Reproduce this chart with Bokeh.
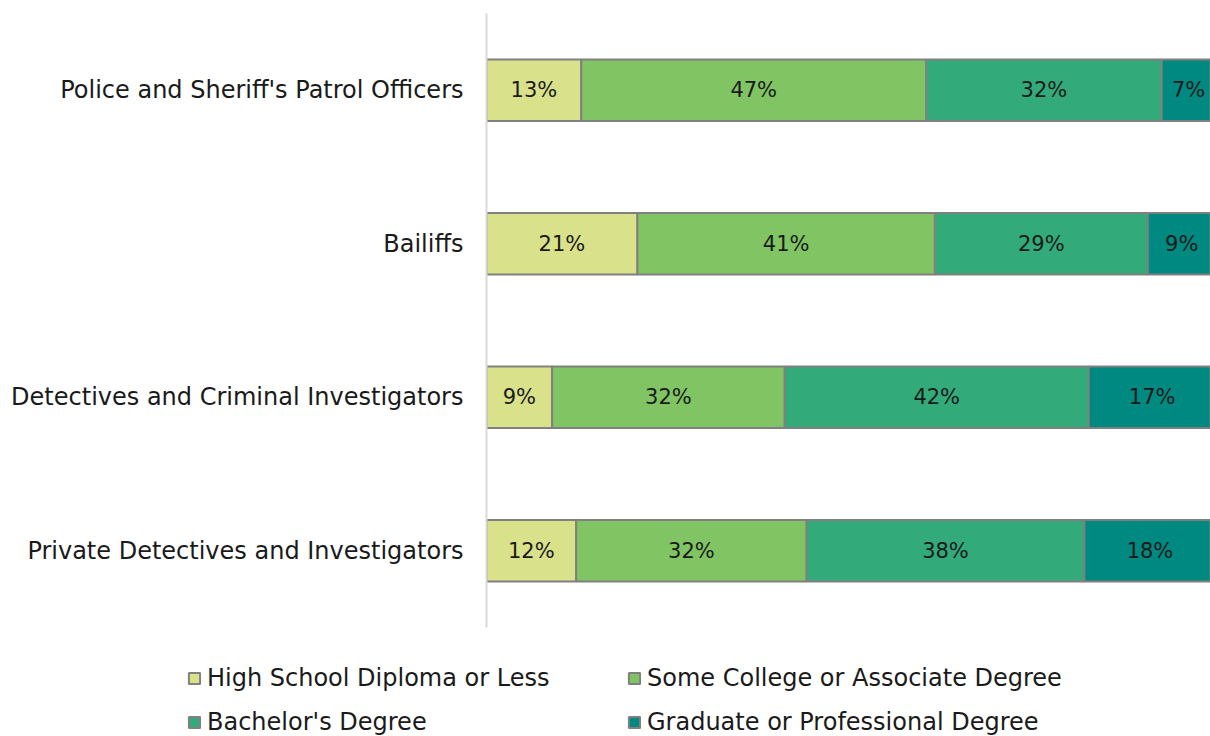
from bokeh.plotting import figure
from bokeh.models import ColumnDataSource, FactorRange, Legend, LegendItem, Range1d
from bokeh.core.properties import value
from bokeh.embed import file_html
from bokeh.resources import INLINE

occupations = ["Police and Sheriff's Patrol Officers", "Bailiffs",
               "Detectives and Criminal Investigators", "Private Detectives and Investigators"]
series = ["High School Diploma or Less", "Some College or Associate Degree",
          "Bachelor's Degree", "Graduate or Professional Degree"]
high_school = [13.0, 20.7, 9.0, 12.3]
some_college = [47.3, 40.8, 31.9, 31.6]
bachelors = [32.3, 29.2, 41.7, 38.1]
graduate = [7.4, 9.3, 17.4, 18.0]
colors = ["#d9e18b", "#80c464", "#32aa7a", "#008980"]

FONT = "DejaVu Sans"
TEXT = "#1a1a1a"
EDGE = "#808080"
keys = ["hs", "sc", "ba", "gr"]
data = {"occ": occupations, "hs": high_school, "sc": some_college, "ba": bachelors, "gr": graduate}
source = ColumnDataSource(data)

p = figure(width=1210, height=650, output_backend="svg", toolbar_location=None,
           y_range=FactorRange(factors=list(reversed(occupations)), range_padding=0),
           x_range=Range1d(0, 99.3),
           min_border_left=486, min_border_right=0, min_border_top=13, min_border_bottom=23)
p.outline_line_color = None
p.xgrid.visible = False
p.ygrid.visible = False
p.xaxis.visible = False

rs = p.hbar_stack(keys, y="occ", height=0.4, color=colors, source=source,
                  line_color=EDGE, line_width=2)

# segment labels
lx, ly, lt = [], [], []
for i, occ in enumerate(occupations):
    left = 0.0
    for arr in (high_school, some_college, bachelors, graduate):
        v = arr[i]
        lx.append(left + v / 2)
        ly.append(occ)
        lt.append(f"{round(v)}%")
        left += v
p.text(x=lx, y=ly, text=lt, text_align="center", text_baseline="middle",
       text_font=value(FONT), text_font_size="21px", text_color=TEXT)

yax = p.yaxis[0]
yax.axis_line_color = "#d9d9d9"
yax.axis_line_width = 2
yax.major_tick_line_color = None
yax.minor_tick_line_color = None
yax.major_label_text_font = FONT
yax.major_label_text_font_size = "24px"
yax.major_label_text_color = TEXT
yax.major_label_standoff = 17

# legend figure (same data, bars hidden; only the legend shows)
lf = figure(width=1210, height=86, output_backend="svg", toolbar_location=None,
            y_range=FactorRange(factors=list(reversed(occupations))), x_range=Range1d(0, 100),
            min_border_left=0, min_border_right=0, min_border_top=0, min_border_bottom=0)
lf.outline_line_color = None
lf.axis.visible = False
lf.grid.visible = False
lrs = lf.hbar_stack(keys, y="occ", height=0.4, color=colors, source=source,
                    line_color=EDGE, line_width=2)
for r in lrs:
    r.visible = False

order = [0, 2, 1, 3]
legend = Legend(items=[LegendItem(label=series[k], renderers=[lrs[k]]) for k in order],
                ncols=2, location=(187, 0))
legend.label_text_font = FONT
legend.label_text_font_size = "24px"
legend.label_text_color = TEXT
legend.glyph_width = 14
legend.glyph_height = 14
legend.label_standoff = 6
legend.label_width = 404
legend.spacing = 16
legend.padding = 0
legend.margin = 0
legend.border_line_color = None
legend.background_fill_alpha = 0
legend.inactive_fill_alpha = 0
legend.click_policy = "none"
lf.add_layout(legend, "center")

open("out.html", "w").write(file_html([p, lf], INLINE))
